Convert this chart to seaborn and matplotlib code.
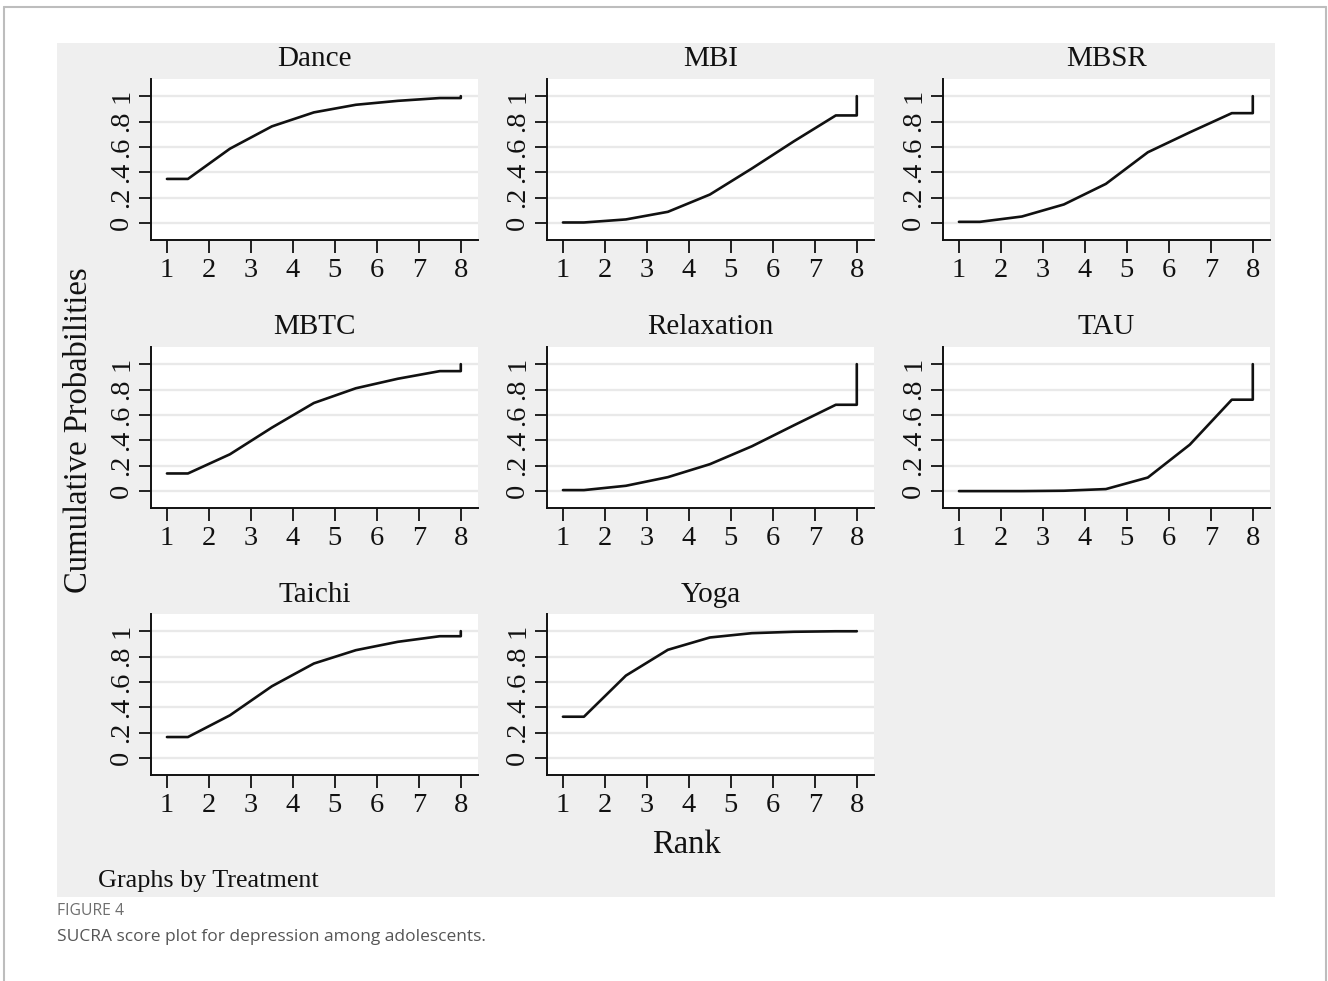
import numpy as np
import pandas as pd
import seaborn as sns
import matplotlib.pyplot as plt
from matplotlib.patches import Rectangle
from matplotlib.lines import Line2D

# Cumulative ranking probabilities for ranks 1..7 (rank 8 is always 1)
treatments = ["Dance", "MBI", "MBSR", "MBTC", "Relaxation", "TAU", "Taichi", "Yoga"]
dance = [0.348, 0.586, 0.762, 0.872, 0.932, 0.963, 0.985]
mbi = [0.005, 0.029, 0.089, 0.225, 0.430, 0.644, 0.848]
mbsr = [0.010, 0.052, 0.147, 0.309, 0.558, 0.715, 0.866]
mbtc = [0.139, 0.290, 0.500, 0.694, 0.810, 0.885, 0.945]
relaxation = [0.008, 0.042, 0.110, 0.212, 0.353, 0.518, 0.680]
tau = [0.000, 0.000, 0.003, 0.016, 0.107, 0.366, 0.720]
taichi = [0.166, 0.337, 0.566, 0.745, 0.850, 0.916, 0.960]
yoga = [0.326, 0.650, 0.853, 0.950, 0.984, 0.995, 0.999]
ranks = [1, 2, 3, 4, 5, 6, 7, 8]
ytick_vals = [0, 0.2, 0.4, 0.6, 0.8, 1.0]
ytick_labels = ["0", ".2", ".4", ".6", ".8", "1"]

series = dict(zip(treatments, [dance, mbi, mbsr, mbtc, relaxation, tau, taichi, yoga]))

# Build the connected path: flat start, values at rank midpoints, step up to 1 at rank 8
rows = []
for name, cum in series.items():
    xs = [ranks[0]] + [r + 0.5 for r in ranks[:-1]] + [ranks[-1], ranks[-1]]
    ys = [cum[0]] + list(cum) + [cum[-1], 1.0]
    for i, (x, y) in enumerate(zip(xs, ys)):
        rows.append({"Treatment": name, "order": i, "Rank": x, "Cum": y})
df = pd.DataFrame(rows)

sns.set_theme(style="white")
plt.rcParams["font.family"] = ["Liberation Serif", "DejaVu Serif"]

W, H = 1328, 981
fig = plt.figure(figsize=(W / 100, H / 100), dpi=100, facecolor="white")

# Outer frame and gray graph region
for (x0, y0, x1, y1) in [(4, 7, 1326, 7), (4, 7, 4, 981), (1326, 7, 1326, 981)]:
    fig.add_artist(Line2D([x0 / W, x1 / W], [1 - y0 / H, 1 - y1 / H],
                          color="#bdbdbd", lw=1.5, transform=fig.transFigure))
fig.add_artist(Rectangle((57 / W, 1 - 897 / H), (1275 - 57) / W, (897 - 43) / H,
                         facecolor="#efefef", edgecolor="none",
                         transform=fig.transFigure, zorder=0))

col_left = [151, 547, 943]
row_top = [79, 347, 614]
pw, ph = 327, 161

for k, name in enumerate(treatments):
    r, c = divmod(k, 3)
    ax = fig.add_axes([col_left[c] / W, 1 - (row_top[r] + ph) / H, pw / W, ph / H])
    ax.set_facecolor("white")
    for yv in ytick_vals:
        ax.axhline(yv, color="#e9e9e9", lw=1.7, zorder=0)
    sub = df[df["Treatment"] == name]
    sns.lineplot(data=sub, x="Rank", y="Cum", sort=False, estimator=None,
                 color="#111111", lw=1.9, ax=ax, zorder=3)
    ax.set_xlim(0.62, 8.41)
    ax.set_ylim(-0.133, 1.135)
    ax.set_xticks(ranks)
    ax.set_xticklabels([str(v) for v in ranks])
    ax.set_yticks(ytick_vals)
    ax.set_yticklabels(ytick_labels)
    for lab in ax.get_yticklabels():
        lab.set_rotation(90)
        lab.set_va("center")
    ax.tick_params(axis="both", direction="out", length=9, width=1.3,
                   color="#111111", labelsize=20.5, labelcolor="#111111",
                   left=True, bottom=True)
    ax.tick_params(axis="y", pad=3)
    ax.tick_params(axis="x", pad=4)
    for side in ["top", "right"]:
        ax.spines[side].set_visible(False)
    for side in ["left", "bottom"]:
        ax.spines[side].set_color("#111111")
        ax.spines[side].set_linewidth(1.4)
    ax.set_xlabel("")
    ax.set_ylabel("")
    ax.set_title(name, fontsize=21, color="#111111", pad=9)

fig.text(79 / W, 1 - 430 / H, "Cumulative Probabilities", rotation=90,
         ha="center", va="center", fontsize=23.5, color="#111111")
fig.text(686 / W, 1 - 845 / H, "Rank", ha="center", va="center",
         fontsize=23.5, color="#111111")
fig.text(98 / W, 1 - 881 / H, "Graphs by Treatment", ha="left", va="center",
         fontsize=18.8, color="#111111")

fig.text(57 / W, 1 - 911 / H, "FIGURE 4", ha="left", va="center",
         fontsize=11.3, color="#6f6f6f", family=["Open Sans", "DejaVu Sans"])
fig.text(57 / W, 1 - 937 / H, "SUCRA score plot for depression among adolescents.",
         ha="left", va="center", fontsize=12.5, color="#555555",
         family=["Open Sans", "DejaVu Sans"])

fig.savefig("out.png", dpi=100, facecolor="white")
